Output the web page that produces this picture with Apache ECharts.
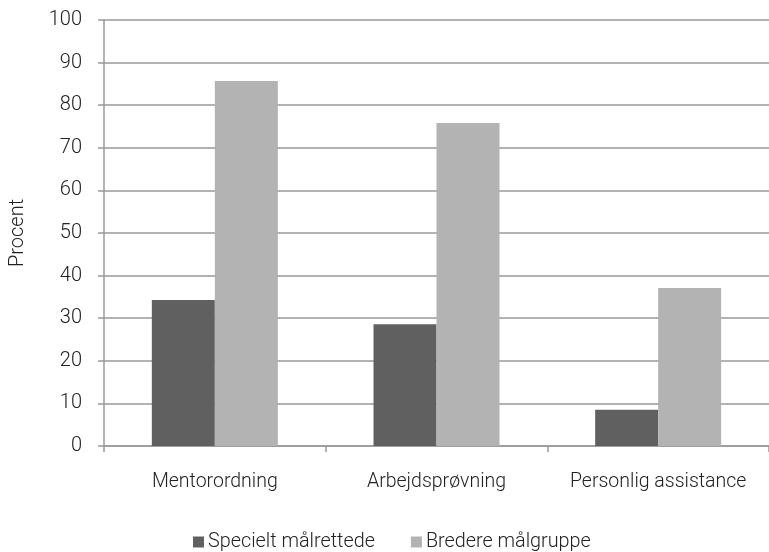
<!DOCTYPE html>
<html><head><meta charset="utf-8">
<script src="https://cdn.jsdelivr.net/npm/echarts@6/dist/echarts.min.js"></script>
<style>html,body{margin:0;padding:0;background:#fff}#c{width:769px;height:552px}</style>
</head><body><div id="c"></div>
<script>
const categories = ["Mentorordning", "Arbejdsprøvning", "Personlig assistance"];
const seriesNames = ["Specielt målrettede", "Bredere målgruppe"];
const specielt = [34.3, 28.6, 8.5];
const bredere = [85.7, 75.8, 37.1];
const yTicks = [0, 10, 20, 30, 40, 50, 60, 70, 80, 90, 100];

const font = "Roboto";
const chart = echarts.init(document.getElementById('c'), null, {renderer: 'canvas'});
chart.setOption({
  animation: false,
  backgroundColor: '#fff',
  grid: {left: 103, top: 20, width: 672, height: 426, containLabel: false},
  legend: {
    top: 532, left: 193, itemWidth: 11, itemHeight: 11, itemGap: 36,
    icon: 'rect', padding: 0,
    textStyle: {fontFamily: font, fontWeight: 300, fontSize: 19.8, color: '#222', padding: [0, 0, 0, -1]},
    data: seriesNames
  },
  xAxis: {
    type: 'category', data: categories,
    axisLine: {lineStyle: {color: '#999', width: 1.5}},
    axisTick: {show: true, length: 6, lineStyle: {color: '#999', width: 1.5}},
    axisLabel: {interval: 0, fontFamily: font, fontWeight: 300, fontSize: 19.5, color: '#222', margin: 26}
  },
  yAxis: {
    type: 'value', min: yTicks[0], max: yTicks[yTicks.length - 1], interval: 10,
    name: 'Procent', nameLocation: 'middle', nameGap: 76,
    nameTextStyle: {fontFamily: font, fontWeight: 300, fontSize: 20, color: '#222'},
    axisLine: {show: true, lineStyle: {color: '#999', width: 1.5}},
    axisTick: {show: true, length: 6, lineStyle: {color: '#999', width: 1.5}},
    axisLabel: {fontFamily: font, fontWeight: 300, fontSize: 20, color: '#222', margin: 22},
    splitLine: {lineStyle: {color: '#999', width: 1.5}}
  },
  series: [
    {name: seriesNames[0], type: 'bar', data: specielt, barWidth: 63, barGap: '0%',
     itemStyle: {color: '#606060'}},
    {name: seriesNames[1], type: 'bar', data: bredere, barWidth: 63, barGap: '0%',
     itemStyle: {color: '#b3b3b3'}}
  ]
});
</script></body></html>
